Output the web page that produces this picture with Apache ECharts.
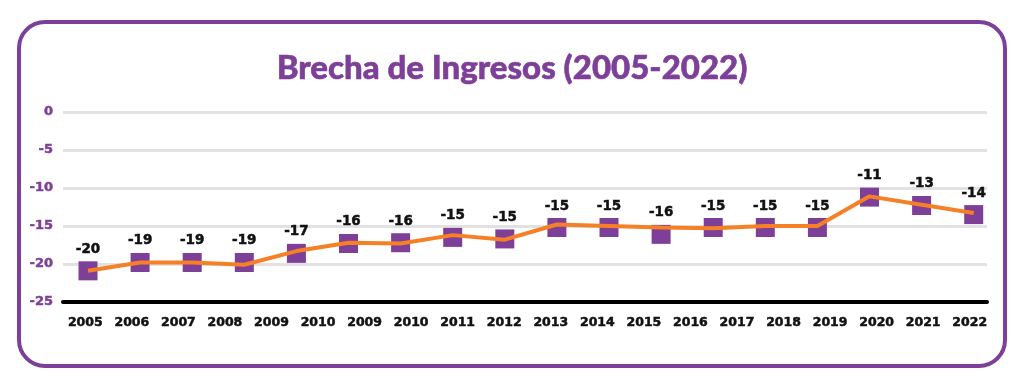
<!DOCTYPE html>
<html>
<head>
<meta charset="utf-8">
<script src="https://cdn.jsdelivr.net/npm/echarts@6/dist/echarts.min.js"></script>
<style>
html,body{margin:0;padding:0;background:#fff;}
#c{width:1024px;height:388px;}
</style>
</head>
<body>
<div id="c"></div>
<script>
// x-axis tick labels (as printed in the original)
const categories = ["2005","2006","2007","2008","2009","2010","2009","2010","2011","2012","2013","2014","2015","2016","2017","2018","2019","2020","2021","2022"];
// purple square markers (values)
const markerValues = [-20.9,-19.8,-19.8,-19.8,-18.6,-17.3,-17.2,-16.5,-16.7,-15.2,-15.2,-16.1,-15.2,-15.2,-15.2,-11.2,-12.3,-13.5];
// orange line values
const lineValues = [-20.9,-19.8,-19.8,-20.1,-18.3,-17.2,-17.3,-16.2,-16.8,-14.8,-15.0,-15.2,-15.3,-15.0,-15.0,-11.1,-12.2,-13.3];
// printed data labels
const dataLabels = ["-20","-19","-19","-19","-17","-16","-16","-15","-15","-15","-15","-16","-15","-15","-15","-11","-13","-14"];
const yTicks = [0,-5,-10,-15,-20,-25];

const PURPLE = '#7d3f98';
const ORANGE = '#f58025';
const NUMFONT = 'DejaVu Sans';

const chart = echarts.init(document.getElementById('c'), null, {renderer:'canvas'});

const markerData = markerValues.map((v,i)=>[i,v]);
const lineData = lineValues.map((v,i)=>[i,v]);

chart.setOption({
  backgroundColor:'#fff',
  animation:false,
  title:{
    text:'Brecha de Ingresos (2005-2022)',
    left:'center', top:47,
    textStyle:{fontFamily:'Lato', fontWeight:900, fontSize:33, color:PURPLE,
      textBorderColor:PURPLE, textBorderWidth:0.6}
  },
  graphic:[{
    type:'rect', z:-10,
    shape:{x:19, y:22, width:986, height:344, r:26},
    style:{fill:'none', stroke:PURPLE, lineWidth:4}
  }],
  grid:[
    {left:63, right:37, top:112, height:190},
    {left:62, right:31, top:112, height:190}
  ],
  xAxis:[
    {type:'value', gridIndex:0, min:-0.48, max:17.255, position:'bottom',
     axisLine:{show:true, onZero:false, lineStyle:{color:'#000', width:4}},
     axisTick:{show:false}, axisLabel:{show:false}, splitLine:{show:false}},
    {type:'category', gridIndex:1, data:categories, boundaryGap:true, position:'bottom',
     axisLine:{show:false}, axisTick:{show:false},
     axisLabel:{margin:14, color:'#111', fontFamily:NUMFONT, fontWeight:'bold', fontSize:12.5, interval:0,
       textBorderColor:'#111', textBorderWidth:0.5}}
  ],
  yAxis:[
    {type:'value', gridIndex:0, min:-25, max:0, interval:5,
     axisLine:{show:false}, axisTick:{show:false},
     axisLabel:{margin:10, color:PURPLE, fontFamily:NUMFONT, fontWeight:'bold', fontSize:13,
       textBorderColor:PURPLE, textBorderWidth:0.5,
       formatter:(v)=> yTicks.includes(v) ? String(v) : ''},
     splitLine:{show:true, lineStyle:{color:'#e2e2e2', width:3}}},
    {type:'value', gridIndex:1, min:-25, max:0, show:false}
  ],
  series:[
    {type:'scatter', xAxisIndex:0, yAxisIndex:0, data:markerData,
     symbol:'rect', symbolSize:19, z:2,
     itemStyle:{color:PURPLE, opacity:1},
     label:{show:true, position:'top', distance:5,
       formatter:(p)=>dataLabels[p.dataIndex],
       color:'#111', fontFamily:NUMFONT, fontWeight:'bold', fontSize:13.5,
       textBorderColor:'#111', textBorderWidth:0.5}},
    {type:'line', xAxisIndex:0, yAxisIndex:0, data:lineData,
     symbol:'none', z:3,
     lineStyle:{color:ORANGE, width:4}}
  ]
});
</script>
</body>
</html>
